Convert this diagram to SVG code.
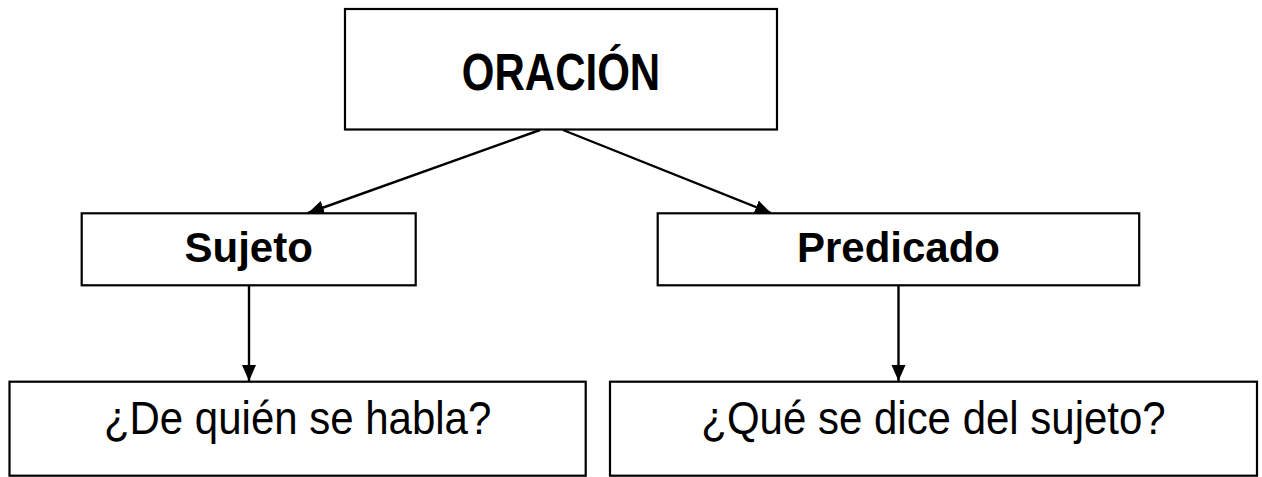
<svg xmlns="http://www.w3.org/2000/svg" width="1262" height="477" viewBox="0 0 1262 477">
<style>
.box{fill:#fff;stroke:#000;stroke-width:2.2}
.t{font-family:"Liberation Sans",Arial,sans-serif;font-size:42px;fill:#000;text-anchor:middle}
.b{font-weight:bold}
.c{stroke:#000;stroke-width:2.4;fill:none;marker-end:url(#ah)}
</style>
<defs>
<marker id="ah" markerUnits="userSpaceOnUse" markerWidth="17" markerHeight="15" refX="16" refY="7" orient="auto">
<path d="M0,0 L16,7 L0,14 Z" fill="#000"/>
</marker>
</defs>
<rect x="0" y="0" width="1262" height="477" fill="#fff"/>
<g id="connectors">
<line class="c" x1="540" y1="130" x2="308" y2="213"/>
<line class="c" x1="563" y1="130" x2="771" y2="213"/>
<line class="c" x1="249" y1="286" x2="249" y2="381"/>
<line class="c" x1="898.5" y1="286" x2="898.5" y2="381"/>
</g>
<g id="oracion">
<rect class="box" x="345" y="9" width="432" height="120.5"/>
<text class="t b" transform="translate(561,90) scale(1,1.25)">ORACIÓN</text>
</g>
<g id="sujeto">
<rect class="box" x="81.7" y="213.3" width="334" height="72"/>
<text class="t b" x="248.7" y="262">Sujeto</text>
</g>
<g id="predicado">
<rect class="box" x="657.7" y="213.3" width="481.5" height="72"/>
<text class="t b" x="898.5" y="262">Predicado</text>
</g>
<g id="quien">
<rect class="box" x="9.5" y="381.7" width="576.2" height="94"/>
<text class="t" transform="translate(297.6,434) scale(1,1.1)">¿De quién se habla?</text>
</g>
<g id="que">
<rect class="box" x="610" y="381.7" width="647" height="94"/>
<text class="t" transform="translate(933.5,434) scale(1,1.1)">¿Qué se dice del sujeto?</text>
</g>
</svg>
